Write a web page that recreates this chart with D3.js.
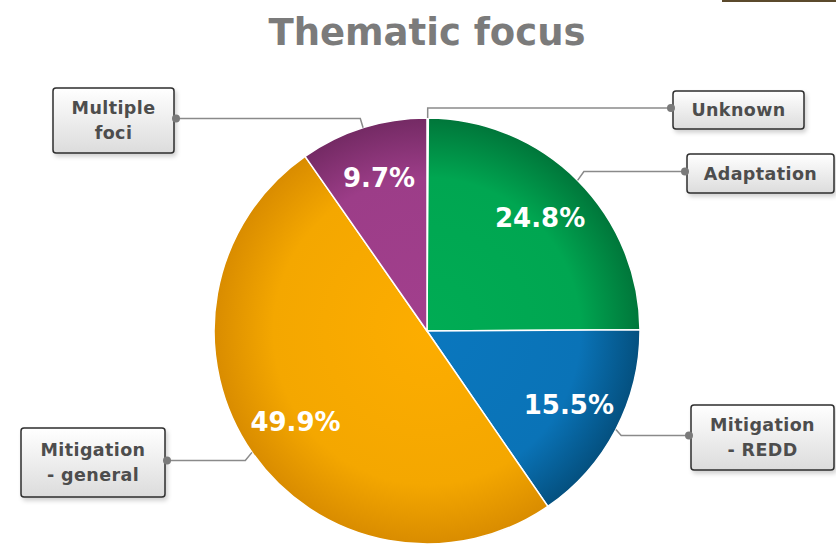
<!DOCTYPE html>
<html>
<head>
<meta charset="utf-8">
<script src="https://cdn.jsdelivr.net/npm/d3@7"></script>
<style>
  body { margin: 0; background: #fff; }
  svg { display: block; }
</style>
</head>
<body>
<div id="chart"></div>
<script>
var width = 836, height = 547,
    cx = 427, cy = 331, radius = 213;

// data
var categories = ["Unknown", "Adaptation", "Mitigation - REDD", "Mitigation - general", "Multiple foci"];
var shares = [0.1, 24.8, 15.5, 49.9, 9.7];
var labelLines = [["Unknown"], ["Adaptation"], ["Mitigation", "- REDD"], ["Mitigation", "- general"], ["Multiple", "foci"]];
var colors = ["#1a5fa8", "#00a651", "#0a73b7", "#f4a700", "#9c3d88"];
var edgeColors = ["#0d3f73", "#00763a", "#04507f", "#d98c00", "#742a64"];

// label box layout (x, y, w, h)
var boxes = [
  [673, 91, 131, 38],
  [687, 154, 147, 39],
  [691, 405, 143, 65],
  [21, 428, 144, 69],
  [53, 88, 121, 65]
];

var svg = d3.select("#chart")
  .append("svg")
    .attr("width", width)
    .attr("height", height);

var defs = svg.append("defs");

// radial shading, centred on the pie (user space of the pie group)
colors.forEach(function(c, i) {
  var g = defs.append("radialGradient")
    .attr("id", "grad" + i)
    .attr("gradientUnits", "userSpaceOnUse")
    .attr("cx", 0).attr("cy", 0).attr("r", radius);
  g.append("stop").attr("offset", "0%").attr("stop-color", d3.color(c).brighter(0.1));
  g.append("stop").attr("offset", "72%").attr("stop-color", c);
  g.append("stop").attr("offset", "100%").attr("stop-color", edgeColors[i]);
});

var boxGrad = defs.append("linearGradient")
  .attr("id", "boxgrad").attr("x1", 0).attr("y1", 0).attr("x2", 0).attr("y2", 1);
boxGrad.append("stop").attr("offset", "0%").attr("stop-color", "#ffffff");
boxGrad.append("stop").attr("offset", "100%").attr("stop-color", "#dcdcdc");

var shadow = defs.append("filter").attr("id", "shadow")
  .attr("x", "-20%").attr("y", "-20%").attr("width", "140%").attr("height", "150%");
shadow.append("feDropShadow")
  .attr("dx", 2).attr("dy", 3).attr("stdDeviation", 2)
  .attr("flood-color", "#000").attr("flood-opacity", 0.18);

// thin bar top right
svg.append("rect")
  .attr("x", 722).attr("y", 0).attr("width", 114).attr("height", 2)
  .attr("fill", "#5b4a2c");

// title
svg.append("text")
  .attr("x", cx).attr("y", 45)
  .attr("text-anchor", "middle")
  .style("font-family", "DejaVu Sans, sans-serif")
  .style("font-weight", "bold")
  .style("font-size", "37px")
  .style("fill", "#7b7b7b")
  .text("Thematic focus");

var pie = d3.pie().sort(null).value(function(d) { return d; });
var arcs = pie(shares);

var arc = d3.arc().innerRadius(0).outerRadius(radius);
var labelArc = d3.arc().innerRadius(160).outerRadius(160);
var edgeArc = d3.arc().innerRadius(radius).outerRadius(radius);

var g = svg.append("g")
  .attr("transform", "translate(" + cx + "," + cy + ")");

g.selectAll(".slice")
  .data(arcs)
.enter().append("path")
  .attr("class", "slice")
  .attr("d", arc)
  .style("fill", function(d, i) { return "url(#grad" + i + ")"; })
  .style("stroke", "#fff")
  .style("stroke-width", 1.5);

g.selectAll(".pct")
  .data(arcs.filter(function(d) { return d.value >= 1; }))
.enter().append("text")
  .attr("class", "pct")
  .attr("x", function(d) { return labelArc.centroid(d)[0]; })
  .attr("y", function(d) { return labelArc.centroid(d)[1]; })
  .attr("dy", "0.35em")
  .attr("text-anchor", "middle")
  .style("font-family", "DejaVu Sans, sans-serif")
  .style("font-weight", "bold")
  .style("font-size", "26px")
  .style("fill", "#fff")
  .text(function(d) { return d.value.toFixed(1) + "%"; });

// connectors and boxes
arcs.forEach(function(d, i) {
  var b = boxes[i];
  var mid = (d.startAngle + d.endAngle) / 2;
  var p = edgeArc.centroid(d);
  var ax = cx + p[0], ay = cy + p[1];
  var ly = b[1] + b[3] / 2 - 2;
  var right = b[0] > cx;
  var ex = right ? b[0] - 4 : b[0] + b[2] + 2;
  var bx = ax + Math.sin(mid) * Math.abs(ay - ly);

  svg.append("path")
    .attr("d", d3.line()([[ax, ay], [bx, ly], [ex, ly]]))
    .style("fill", "none")
    .style("stroke", "#8a8a8a")
    .style("stroke-width", 1.5);

  svg.append("rect")
    .attr("x", b[0]).attr("y", b[1])
    .attr("width", b[2]).attr("height", b[3])
    .attr("rx", 3)
    .style("fill", "url(#boxgrad)")
    .style("stroke", "#2e2e2e")
    .style("stroke-width", 1.5)
    .attr("filter", "url(#shadow)");

  svg.append("circle")
    .attr("cx", right ? b[0] - 2 : b[0] + b[2] + 2)
    .attr("cy", ly)
    .attr("r", 4)
    .style("fill", "#7a7a7a");

  var lines = labelLines[i];
  var t = svg.append("text")
    .attr("text-anchor", "middle")
    .style("font-family", "DejaVu Sans, sans-serif")
    .style("font-weight", "bold")
    .style("font-size", "17.5px")
    .style("letter-spacing", "0.4px")
    .style("fill", "#4d4d4d");
  lines.forEach(function(s, k) {
    t.append("tspan")
      .attr("x", b[0] + b[2] / 2)
      .attr("y", b[1] + b[3] / 2 + (k - (lines.length - 1) / 2) * 25)
      .attr("dy", "0.35em")
      .text(s);
  });
});
</script>
</body>
</html>
